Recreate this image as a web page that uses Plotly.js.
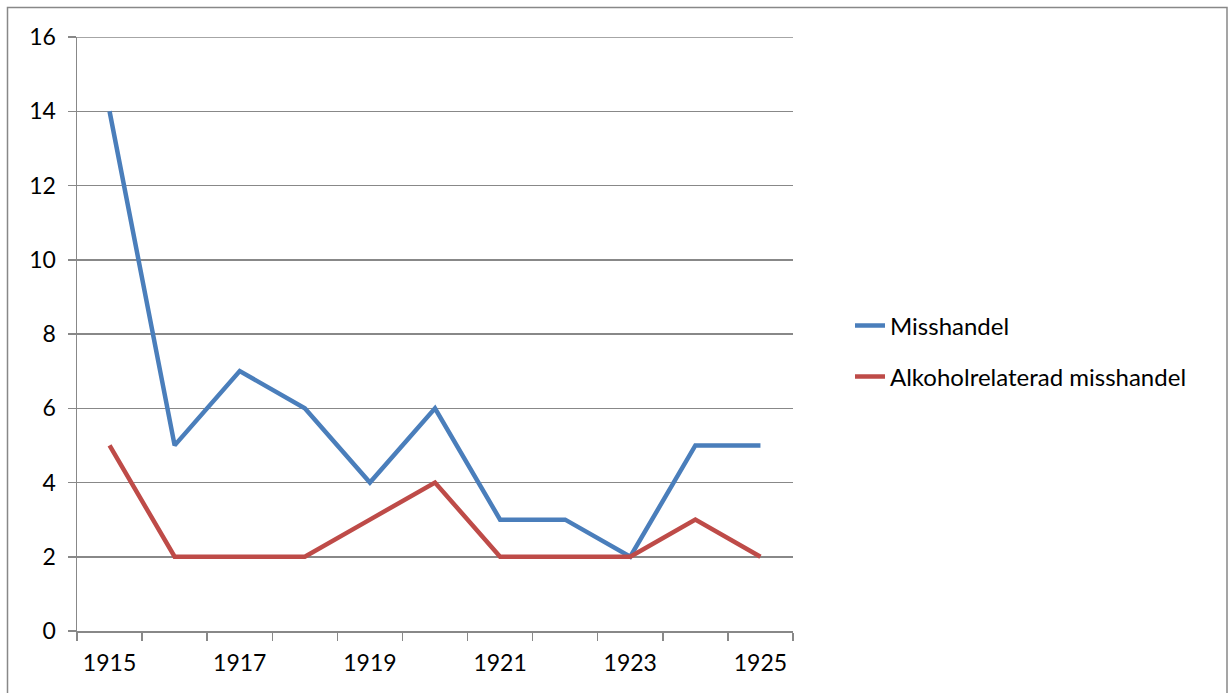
<!DOCTYPE html>
<html>
<head>
<meta charset="utf-8">
<script src="https://cdn.plot.ly/plotly-3.0.1.min.js"></script>
<style>html,body{margin:0;padding:0;background:#fff;}#chart{width:1229px;height:693px;}</style>
</head>
<body>
<div id="chart"></div>
<script>
const years = [1915, 1916, 1917, 1918, 1919, 1920, 1921, 1922, 1923, 1924, 1925];
const misshandel = [14, 5, 7, 6, 4, 6, 3, 3, 2, 5, 5];
const alkohol = [5, 2, 2, 2, 3, 4, 2, 2, 2, 3, 2];
const seriesNames = ['Misshandel', 'Alkoholrelaterad misshandel'];
const xTickLabels = [1915, 1917, 1919, 1921, 1923, 1925];

const W = 1229, H = 693;
const L = 77, R = 793, T = 37, B = 631;
const px = v => (v - L) / (R - L);
const py = v => (B - v) / (B - T);

const FONT = 'Lato, "Open Sans", sans-serif';

const traces = [
  {x: years, y: misshandel, name: seriesNames[0], type: 'scatter', mode: 'lines',
   line: {color: '#4a7ebb', width: 4.5, shape: 'linear'}, legend: 'legend'},
  {x: years, y: alkohol, name: seriesNames[1], type: 'scatter', mode: 'lines',
   line: {color: '#be4b48', width: 4.5, shape: 'linear'}, legend: 'legend2'}
];

const legendFont = {family: FONT, size: 24, color: '#000'};
const tickFont = {family: FONT, size: 23, color: '#000'};
const layout = {
  width: W, height: H,
  margin: {l: L, r: W - R, t: T, b: H - B, pad: 0},
  paper_bgcolor: '#fff', plot_bgcolor: '#fff',
  font: {family: FONT, size: 23, color: '#000'},
  showlegend: true,
  legend: {x: px(850), y: py(326), xanchor: 'left', yanchor: 'middle', font: legendFont,
           bgcolor: 'rgba(0,0,0,0)', borderwidth: 0},
  legend2: {x: px(850), y: py(377), xanchor: 'left', yanchor: 'middle', font: legendFont,
            bgcolor: 'rgba(0,0,0,0)', borderwidth: 0},
  xaxis: {
    range: [years[0] - 0.5, years[years.length - 1] + 0.5],
    tickvals: xTickLabels, ticktext: xTickLabels.map(String),
    ticks: '', showgrid: false, zeroline: false,
    showline: true, linecolor: '#888', linewidth: 1.5,
    tickfont: tickFont,
    ticklabelstandoff: 11,
    minor: {ticks: 'outside', tick0: years[0] - 0.5, dtick: 1, ticklen: 8, tickcolor: '#888', tickwidth: 1.5, showgrid: false},
    fixedrange: true
  },
  yaxis: {
    range: [0, 16], dtick: 2, tick0: 0,
    ticks: 'outside', ticklen: 8, tickcolor: '#888', tickwidth: 1.5,
    showgrid: true, gridcolor: '#888', gridwidth: 1.5,
    zeroline: false, showline: true, linecolor: '#888', linewidth: 1.5,
    tickfont: tickFont,
    ticklabelstandoff: 7,
    fixedrange: true
  },
  shapes: [
    {type: 'line', xref: 'paper', yref: 'y', x0: 0, x1: 1, y0: 16, y1: 16,
     line: {color: '#888', width: 1.5}},
    {type: 'rect', xref: 'paper', yref: 'paper', x0: px(7.5), x1: px(1227), y0: py(720), y1: py(7.5),
     line: {color: '#888', width: 1.5}, fillcolor: 'rgba(0,0,0,0)', layer: 'below'}
  ]
};

Plotly.newPlot('chart', traces, layout, {displayModeBar: false, staticPlot: true});
</script>
</body>
</html>
